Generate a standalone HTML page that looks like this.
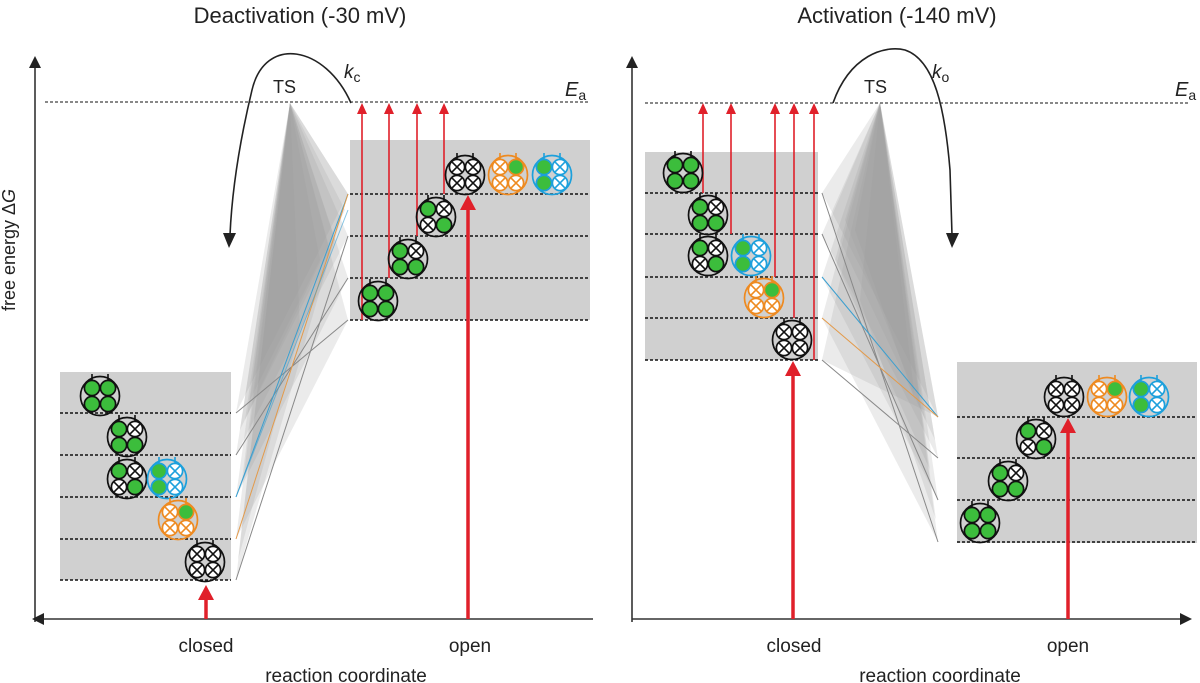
<!DOCTYPE html>
<html><head><meta charset="utf-8"><style>
body{margin:0;background:#fff}
svg{display:block;font-family:"Liberation Sans",Arial,sans-serif}
</style></head><body>
<svg width="1200" height="683" viewBox="0 0 1200 683" xmlns="http://www.w3.org/2000/svg">
<defs>
<g id="G"><circle r="7.6" fill="#3cbd3c" stroke="currentColor" stroke-width="1.7"/></g>
<g id="X"><circle r="7.6" fill="#fff" stroke="currentColor" stroke-width="1.7"/><path d="M-4.8-4.8L4.8 4.8M4.8-4.8L-4.8 4.8" stroke="currentColor" stroke-width="1.6"/></g>
<g id="B"><circle r="19.5" fill="none" stroke="currentColor" stroke-width="1.7"/><path d="M-8-15v-7M8-15v-7" stroke="currentColor" stroke-width="1.6"/></g>
</defs>

<!-- LEFT PANEL -->
<text x="300" y="23" font-size="22" text-anchor="middle" fill="#222">Deactivation (-30 mV)</text>
<rect x="60" y="372" width="171" height="208" fill="#d0d0d0"/>
<rect x="350" y="140" width="240" height="180" fill="#d0d0d0"/>
<g fill="#9a9a9a" fill-opacity="0.2">
<polygon points="290,103 236,413 348,194"/>
<polygon points="290,103 236,455 348,236"/>
<polygon points="290,103 236,497 348,278"/>
<polygon points="290,103 236,539 348,320"/>
<polygon points="290,103 236,580 348,194"/>
<polygon points="290,103 240,430 345,210"/>
<polygon points="290,103 245,420 330,250"/>
<polygon points="290,103 250,400 320,260"/>
<polygon points="290,103 238,560 300,330"/>
<polygon points="290,103 242,480 335,240"/>
</g>
<g stroke-width="1" fill="none">
<line x1="236" y1="413" x2="348" y2="320" stroke="#888"/>
<line x1="236" y1="455" x2="348" y2="278" stroke="#888"/>
<line x1="236" y1="497" x2="348" y2="194" stroke="#3a9fd0"/>
<line x1="236" y1="539" x2="348" y2="194" stroke="#e39a4a"/>
<line x1="236" y1="580" x2="348" y2="236" stroke="#888"/>
<line x1="236" y1="497" x2="348" y2="210" stroke="#3a9fd0" opacity=".6"/>
</g>
<g stroke="#111" stroke-width="1.5" stroke-dasharray="3,2">
<line x1="45" y1="102" x2="590" y2="102" stroke-width="1.1"/>
<line x1="60" y1="413" x2="231" y2="413"/><line x1="60" y1="455" x2="231" y2="455"/><line x1="60" y1="497" x2="231" y2="497"/><line x1="60" y1="539" x2="231" y2="539"/><line x1="60" y1="580" x2="231" y2="580"/>
<line x1="350" y1="194" x2="590" y2="194"/><line x1="350" y1="236" x2="590" y2="236"/><line x1="350" y1="278" x2="590" y2="278"/><line x1="350" y1="320" x2="590" y2="320"/>
</g>
<g stroke="#333" stroke-width="1.6">
<line x1="35" y1="66" x2="35" y2="622"/>
<line x1="42" y1="619" x2="593" y2="619"/>
</g>
<polygon points="35,56 29,68 41,68" fill="#222"/>
<polygon points="32,619 44,613 44,625" fill="#222"/>
<text transform="translate(15,250) rotate(-90)" font-size="18" text-anchor="middle" fill="#222">free energy Δ<tspan font-style="italic">G</tspan></text>
<text x="565" y="96" font-size="20" font-style="italic" fill="#222">E<tspan font-size="14" font-style="normal" dy="4">a</tspan></text>
<text x="273" y="93" font-size="18" fill="#222">TS</text>
<text x="344" y="78" font-size="19" font-style="italic" fill="#222">k<tspan font-size="14" font-style="normal" dy="4">c</tspan></text>
<path d="M351,103 C325,45 265,35 252,90 C240,140 232,190 230,235" fill="none" stroke="#222" stroke-width="1.6"/>
<polygon points="229,248 223,233 236,233" fill="#222"/>
<g stroke="#e0202a" fill="#e0202a">
<line x1="362" y1="320" x2="362" y2="110" stroke-width="1.6"/><polygon points="362,103 357,114 367,114" stroke="none"/>
<line x1="389" y1="278" x2="389" y2="110" stroke-width="1.6"/><polygon points="389,103 384,114 394,114" stroke="none"/>
<line x1="417" y1="236" x2="417" y2="110" stroke-width="1.6"/><polygon points="417,103 412,114 422,114" stroke="none"/>
<line x1="444" y1="194" x2="444" y2="110" stroke-width="1.6"/><polygon points="444,103 439,114 449,114" stroke="none"/>
<line x1="468" y1="619" x2="468" y2="205" stroke-width="3.5"/><polygon points="468,195 460,210 476,210" stroke="none"/>
<line x1="206" y1="619" x2="206" y2="595" stroke-width="3.5"/><polygon points="206,585 198,600 214,600" stroke="none"/>
</g>
<g transform="translate(100,396)" color="#111"><use href="#B"/><use href="#G" x="-8" y="-8"/><use href="#G" x="8" y="-8"/><use href="#G" x="-8" y="8"/><use href="#G" x="8" y="8"/></g>
<g transform="translate(127,437)" color="#111"><use href="#B"/><use href="#G" x="-8" y="-8"/><use href="#X" x="8" y="-8"/><use href="#G" x="-8" y="8"/><use href="#G" x="8" y="8"/></g>
<g transform="translate(127,479)" color="#111"><use href="#B"/><use href="#G" x="-8" y="-8"/><use href="#X" x="8" y="-8"/><use href="#X" x="-8" y="8"/><use href="#G" x="8" y="8"/></g>
<g transform="translate(167,479)" color="#1ca0dc"><use href="#B"/><use href="#G" x="-8" y="-8"/><use href="#X" x="8" y="-8"/><use href="#G" x="-8" y="8"/><use href="#X" x="8" y="8"/></g>
<g transform="translate(178,520)" color="#ee8a20"><use href="#B"/><use href="#X" x="-8" y="-8"/><use href="#G" x="8" y="-8"/><use href="#X" x="-8" y="8"/><use href="#X" x="8" y="8"/></g>
<g transform="translate(205,562)" color="#111"><use href="#B"/><use href="#X" x="-8" y="-8"/><use href="#X" x="8" y="-8"/><use href="#X" x="-8" y="8"/><use href="#X" x="8" y="8"/></g>
<g transform="translate(378,301)" color="#111"><use href="#B"/><use href="#G" x="-8" y="-8"/><use href="#G" x="8" y="-8"/><use href="#G" x="-8" y="8"/><use href="#G" x="8" y="8"/></g>
<g transform="translate(408,259)" color="#111"><use href="#B"/><use href="#G" x="-8" y="-8"/><use href="#X" x="8" y="-8"/><use href="#G" x="-8" y="8"/><use href="#G" x="8" y="8"/></g>
<g transform="translate(436,217)" color="#111"><use href="#B"/><use href="#G" x="-8" y="-8"/><use href="#X" x="8" y="-8"/><use href="#X" x="-8" y="8"/><use href="#G" x="8" y="8"/></g>
<g transform="translate(465,175)" color="#111"><use href="#B"/><use href="#X" x="-8" y="-8"/><use href="#X" x="8" y="-8"/><use href="#X" x="-8" y="8"/><use href="#X" x="8" y="8"/></g>
<g transform="translate(508,175)" color="#ee8a20"><use href="#B"/><use href="#X" x="-8" y="-8"/><use href="#G" x="8" y="-8"/><use href="#X" x="-8" y="8"/><use href="#X" x="8" y="8"/></g>
<g transform="translate(552,175)" color="#1ca0dc"><use href="#B"/><use href="#G" x="-8" y="-8"/><use href="#X" x="8" y="-8"/><use href="#G" x="-8" y="8"/><use href="#X" x="8" y="8"/></g>
<text x="206" y="652" font-size="19" text-anchor="middle" fill="#222">closed</text>
<text x="470" y="652" font-size="19" text-anchor="middle" fill="#222">open</text>
<text x="346" y="682" font-size="19" text-anchor="middle" fill="#222">reaction coordinate</text>

<!-- RIGHT PANEL -->
<text x="897" y="23" font-size="22" text-anchor="middle" fill="#222">Activation (-140 mV)</text>
<rect x="645" y="152" width="173" height="208" fill="#d0d0d0"/>
<rect x="957" y="362" width="240" height="181" fill="#d0d0d0"/>
<g fill="#9a9a9a" fill-opacity="0.2">
<polygon points="880,103 822,193 938,417"/>
<polygon points="880,103 822,234 938,458"/>
<polygon points="880,103 822,277 938,500"/>
<polygon points="880,103 822,318 938,542"/>
<polygon points="880,103 822,360 938,417"/>
<polygon points="880,103 830,220 935,440"/>
<polygon points="880,103 845,220 925,420"/>
<polygon points="880,103 855,230 915,400"/>
<polygon points="880,103 860,300 936,520"/>
<polygon points="880,103 835,260 930,470"/>
</g>
<g stroke-width="1" fill="none">
<line x1="822" y1="193" x2="938" y2="542" stroke="#888"/>
<line x1="822" y1="234" x2="938" y2="500" stroke="#888"/>
<line x1="822" y1="277" x2="938" y2="417" stroke="#3a9fd0"/>
<line x1="822" y1="318" x2="938" y2="417" stroke="#e39a4a"/>
<line x1="822" y1="360" x2="938" y2="458" stroke="#888"/>
</g>
<g stroke="#111" stroke-width="1.5" stroke-dasharray="3,2">
<line x1="645" y1="103" x2="1190" y2="103" stroke-width="1.1"/>
<line x1="645" y1="193" x2="818" y2="193"/><line x1="645" y1="234" x2="818" y2="234"/><line x1="645" y1="277" x2="818" y2="277"/><line x1="645" y1="318" x2="818" y2="318"/><line x1="645" y1="360" x2="818" y2="360"/>
<line x1="957" y1="417" x2="1197" y2="417"/><line x1="957" y1="458" x2="1197" y2="458"/><line x1="957" y1="500" x2="1197" y2="500"/><line x1="957" y1="542" x2="1197" y2="542"/>
</g>
<g stroke="#333" stroke-width="1.6">
<line x1="632" y1="66" x2="632" y2="622"/>
<line x1="632" y1="619" x2="1182" y2="619"/>
</g>
<polygon points="632,56 626,68 638,68" fill="#222"/>
<polygon points="1192,619 1180,613 1180,625" fill="#222"/>
<text x="1175" y="96" font-size="20" font-style="italic" fill="#222">E<tspan font-size="14" font-style="normal" dy="4">a</tspan></text>
<text x="864" y="93" font-size="18" fill="#222">TS</text>
<text x="932" y="78" font-size="19" font-style="italic" fill="#222">k<tspan font-size="14" font-style="normal" dy="4">o</tspan></text>
<path d="M833,103 C850,55 885,45 905,50 C935,60 945,110 950,170 L952,235" fill="none" stroke="#222" stroke-width="1.6"/>
<polygon points="952,248 946,233 959,233" fill="#222"/>
<g stroke="#e0202a" fill="#e0202a">
<line x1="703" y1="193" x2="703" y2="110" stroke-width="1.6"/><polygon points="703,103 698,114 708,114" stroke="none"/>
<line x1="731" y1="234" x2="731" y2="110" stroke-width="1.6"/><polygon points="731,103 726,114 736,114" stroke="none"/>
<line x1="775" y1="277" x2="775" y2="110" stroke-width="1.6"/><polygon points="775,103 770,114 780,114" stroke="none"/>
<line x1="794" y1="318" x2="794" y2="110" stroke-width="1.6"/><polygon points="794,103 789,114 799,114" stroke="none"/>
<line x1="814" y1="360" x2="814" y2="110" stroke-width="1.6"/><polygon points="814,103 809,114 819,114" stroke="none"/>
<line x1="793" y1="619" x2="793" y2="372" stroke-width="3.5"/><polygon points="793,361 785,376 801,376" stroke="none"/>
<line x1="1068" y1="619" x2="1068" y2="428" stroke-width="3.5"/><polygon points="1068,418 1060,433 1076,433" stroke="none"/>
</g>
<g transform="translate(683,173)" color="#111"><use href="#B"/><use href="#G" x="-8" y="-8"/><use href="#G" x="8" y="-8"/><use href="#G" x="-8" y="8"/><use href="#G" x="8" y="8"/></g>
<g transform="translate(708,215)" color="#111"><use href="#B"/><use href="#G" x="-8" y="-8"/><use href="#X" x="8" y="-8"/><use href="#G" x="-8" y="8"/><use href="#G" x="8" y="8"/></g>
<g transform="translate(708,256)" color="#111"><use href="#B"/><use href="#G" x="-8" y="-8"/><use href="#X" x="8" y="-8"/><use href="#X" x="-8" y="8"/><use href="#G" x="8" y="8"/></g>
<g transform="translate(751,256)" color="#1ca0dc"><use href="#B"/><use href="#G" x="-8" y="-8"/><use href="#X" x="8" y="-8"/><use href="#G" x="-8" y="8"/><use href="#X" x="8" y="8"/></g>
<g transform="translate(764,298)" color="#ee8a20"><use href="#B"/><use href="#X" x="-8" y="-8"/><use href="#G" x="8" y="-8"/><use href="#X" x="-8" y="8"/><use href="#X" x="8" y="8"/></g>
<g transform="translate(792,340)" color="#111"><use href="#B"/><use href="#X" x="-8" y="-8"/><use href="#X" x="8" y="-8"/><use href="#X" x="-8" y="8"/><use href="#X" x="8" y="8"/></g>
<g transform="translate(980,523)" color="#111"><use href="#B"/><use href="#G" x="-8" y="-8"/><use href="#G" x="8" y="-8"/><use href="#G" x="-8" y="8"/><use href="#G" x="8" y="8"/></g>
<g transform="translate(1008,481)" color="#111"><use href="#B"/><use href="#G" x="-8" y="-8"/><use href="#X" x="8" y="-8"/><use href="#G" x="-8" y="8"/><use href="#G" x="8" y="8"/></g>
<g transform="translate(1036,439)" color="#111"><use href="#B"/><use href="#G" x="-8" y="-8"/><use href="#X" x="8" y="-8"/><use href="#X" x="-8" y="8"/><use href="#G" x="8" y="8"/></g>
<g transform="translate(1064,397)" color="#111"><use href="#B"/><use href="#X" x="-8" y="-8"/><use href="#X" x="8" y="-8"/><use href="#X" x="-8" y="8"/><use href="#X" x="8" y="8"/></g>
<g transform="translate(1107,397)" color="#ee8a20"><use href="#B"/><use href="#X" x="-8" y="-8"/><use href="#G" x="8" y="-8"/><use href="#X" x="-8" y="8"/><use href="#X" x="8" y="8"/></g>
<g transform="translate(1149,397)" color="#1ca0dc"><use href="#B"/><use href="#G" x="-8" y="-8"/><use href="#X" x="8" y="-8"/><use href="#G" x="-8" y="8"/><use href="#X" x="8" y="8"/></g>
<text x="794" y="652" font-size="19" text-anchor="middle" fill="#222">closed</text>
<text x="1068" y="652" font-size="19" text-anchor="middle" fill="#222">open</text>
<text x="940" y="682" font-size="19" text-anchor="middle" fill="#222">reaction coordinate</text>
</svg>
</body></html>
